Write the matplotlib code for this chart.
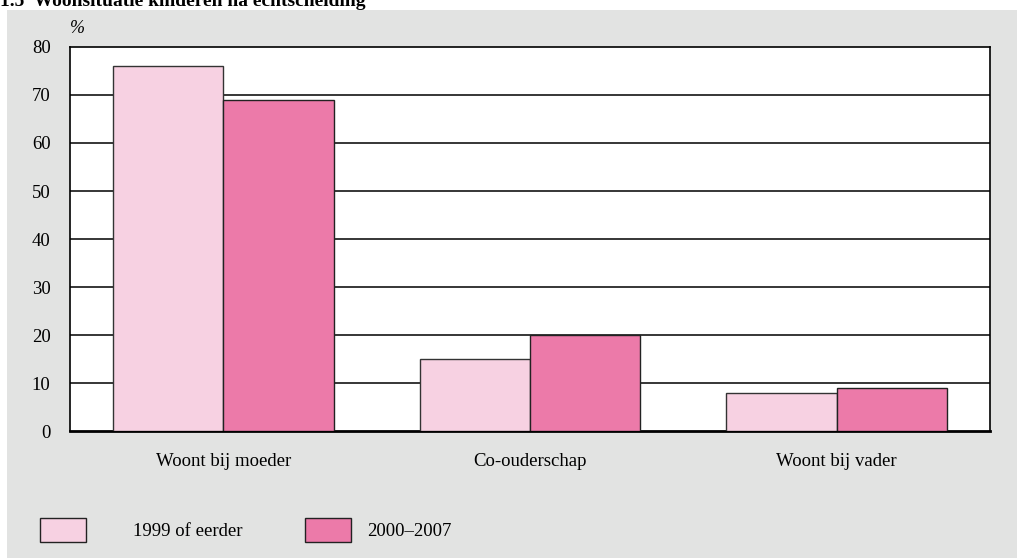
import matplotlib.pyplot as plt
from matplotlib.patches import Rectangle
import numpy as np

categories = ['Woont bij moeder', 'Co-ouderschap', 'Woont bij vader']
series_names = ['1999 of eerder', '2000–2007']
vals_1999 = [76, 15, 8]
vals_2000 = [69, 20, 9]
colors = ['#f7d1e2', '#ec7aa9']

plt.rcParams['font.family'] = ['Liberation Serif', 'DejaVu Serif']

W, H = 1017, 558
fig = plt.figure(figsize=(W / 100, H / 100), dpi=100)
fig.patch.set_facecolor('white')

# grey panel
fig.add_artist(Rectangle((7 / W, 0), 1 - 7 / W, 1 - 10 / H, transform=fig.transFigure,
                         facecolor='#e2e3e2', edgecolor='none', zorder=0))
fig.text(0, 1 - 6 / H, '1.5  Woonsituatie kinderen na echtscheiding', fontsize=14,
         fontweight='bold', va='baseline', ha='left')

ax = fig.add_axes([70 / W, 1 - 431 / H, 920 / W, 384 / H])
ax.set_facecolor('white')

x = np.arange(len(categories))
bw = 0.36
ax.bar(x - bw / 2, vals_1999, bw, color=colors[0], edgecolor='#333333', linewidth=1, zorder=3)
ax.bar(x + bw / 2, vals_2000, bw, color=colors[1], edgecolor='#222222', linewidth=1, zorder=3)

ax.set_xlim(-0.5, 2.5)
ax.set_ylim(0, 80)
ax.set_yticks(range(0, 81, 10))
for yv in range(10, 80, 10):
    ax.axhline(yv, color='black', linewidth=1.1, zorder=1)
ax.set_xticks(x)
ax.set_xticklabels(categories)
ax.tick_params(axis='both', length=0, labelsize=13.5)
ax.tick_params(axis='x', pad=16)
ax.tick_params(axis='y', pad=14)
for s in ax.spines.values():
    s.set_linewidth(1.2)
    s.set_color('black')
ax.spines['bottom'].set_linewidth(2)

ax.text(0.0, 1.0 + 10 / 384, '%', transform=ax.transAxes, fontsize=13, fontstyle='italic',
        ha='left', va='bottom')

# legend
for (lx, tx), name, c in zip([(40, 133), (305, 367)], series_names, colors):
    fig.add_artist(Rectangle((lx / W, 1 - 542 / H), 46 / W, 24 / H, transform=fig.transFigure,
                             facecolor=c, edgecolor='#222222', linewidth=1))
    fig.text(tx / W, 1 - 531 / H, name, fontsize=13.5, va='center', ha='left')

fig.savefig('out.png', dpi=100)
